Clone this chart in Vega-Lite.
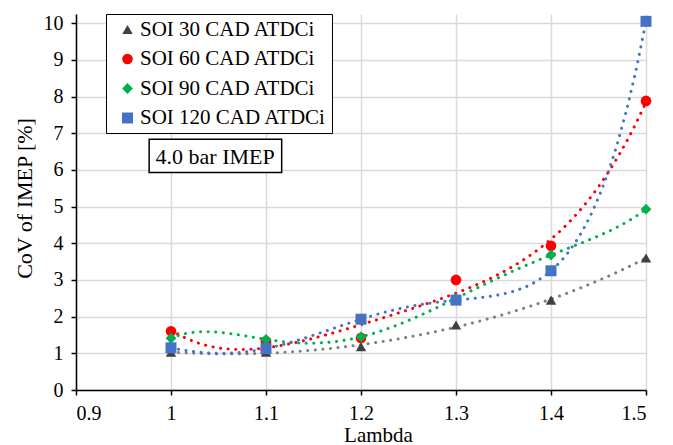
{
  "$schema": "https://vega.github.io/schema/vega-lite/v6.json",
  "width": 570,
  "height": 376,
  "autosize": "none",
  "padding": {"left": 76, "top": 14, "right": 27, "bottom": 55},
  "background": "white",
  "config": {
    "view": {"stroke": null},
    "font": "Liberation Serif",
    "axis": {
      "labelFont": "Liberation Serif",
      "titleFont": "Liberation Serif",
      "labelFontSize": 20,
      "titleFontSize": 21,
      "titleFontWeight": "normal",
      "labelColor": "#000000",
      "titleColor": "#000000",
      "domainColor": "#000000",
      "domainWidth": 1.5,
      "tickColor": "#000000",
      "tickWidth": 1.5,
      "tickSize": 5,
      "gridColor": "#d9d9d9",
      "gridWidth": 1.5
    },
    "axisY": {
      "values": [0, 1, 2, 3, 4, 5, 6, 7, 8, 9, 10],
      "labelPadding": 8,
      "titleX": -52,
      "titleY": 184,
      "titleAngle": -90,
      "titleBaseline": "middle",
      "titleAlign": "center",
      "titleFontSize": 22
    },
    "legend": {
      "labelFont": "Liberation Serif",
      "labelFontSize": 21,
      "labelColor": "#000000",
      "labelLimit": 400
    }
  },
  "datasets": {
    "cov": [
      {"series": "SOI 30 CAD ATDCi", "lambda": 1.0, "cov": 1.03},
      {"series": "SOI 30 CAD ATDCi", "lambda": 1.1, "cov": 1.03},
      {"series": "SOI 30 CAD ATDCi", "lambda": 1.2, "cov": 1.18},
      {"series": "SOI 30 CAD ATDCi", "lambda": 1.3, "cov": 1.77},
      {"series": "SOI 30 CAD ATDCi", "lambda": 1.4, "cov": 2.45},
      {"series": "SOI 30 CAD ATDCi", "lambda": 1.5, "cov": 3.6},
      {"series": "SOI 60 CAD ATDCi", "lambda": 1.0, "cov": 1.6},
      {"series": "SOI 60 CAD ATDCi", "lambda": 1.1, "cov": 1.33},
      {"series": "SOI 60 CAD ATDCi", "lambda": 1.2, "cov": 1.42},
      {"series": "SOI 60 CAD ATDCi", "lambda": 1.3, "cov": 3.0},
      {"series": "SOI 60 CAD ATDCi", "lambda": 1.4, "cov": 3.93},
      {"series": "SOI 60 CAD ATDCi", "lambda": 1.5, "cov": 7.88},
      {"series": "SOI 90 CAD ATDCi", "lambda": 1.0, "cov": 1.41},
      {"series": "SOI 90 CAD ATDCi", "lambda": 1.1, "cov": 1.38},
      {"series": "SOI 90 CAD ATDCi", "lambda": 1.2, "cov": 1.45},
      {"series": "SOI 90 CAD ATDCi", "lambda": 1.3, "cov": 2.5},
      {"series": "SOI 90 CAD ATDCi", "lambda": 1.4, "cov": 3.68},
      {"series": "SOI 90 CAD ATDCi", "lambda": 1.5, "cov": 4.93},
      {"series": "SOI 120 CAD ATDCi", "lambda": 1.0, "cov": 1.15},
      {"series": "SOI 120 CAD ATDCi", "lambda": 1.1, "cov": 1.13},
      {"series": "SOI 120 CAD ATDCi", "lambda": 1.2, "cov": 1.93},
      {"series": "SOI 120 CAD ATDCi", "lambda": 1.3, "cov": 2.45},
      {"series": "SOI 120 CAD ATDCi", "lambda": 1.4, "cov": 3.25},
      {"series": "SOI 120 CAD ATDCi", "lambda": 1.5, "cov": 10.05}
    ]
  },
  "layer": [
    {
      "data": {"name": "cov"},
      "transform": [
        {"filter": "datum.series === 'SOI 30 CAD ATDCi'"},
        {"regression": "cov", "on": "lambda", "method": "poly", "order": 4}
      ],
      "mark": {"type": "line", "color": "#7f7f7f", "strokeWidth": 3, "strokeCap": "round", "strokeDash": [0.1, 7.5]},
      "encoding": {
        "x": {"field": "lambda", "type": "quantitative", "title": "Lambda", "scale": {"domain": [0.9, 1.5], "nice": false, "zero": false},
              "axis": {"values": [0.9, 1, 1.1, 1.2, 1.3, 1.4, 1.5], "format": "~g", "labelPadding": 8, "titleX": 302, "titleY": 51, "titleBaseline": "alphabetic"}},
        "y": {"field": "cov", "type": "quantitative", "title": "CoV of  IMEP [%]", "scale": {"domain": [0, 10.25], "nice": false}}
      }
    },
    {
      "data": {"name": "cov"},
      "transform": [
        {"filter": "datum.series === 'SOI 60 CAD ATDCi'"},
        {"regression": "cov", "on": "lambda", "method": "poly", "order": 4}
      ],
      "mark": {"type": "line", "color": "#ff0000", "strokeWidth": 3, "strokeCap": "round", "strokeDash": [0.1, 7.5]},
      "encoding": {
        "x": {"field": "lambda", "type": "quantitative", "title": "Lambda", "scale": {"domain": [0.9, 1.5], "nice": false, "zero": false},
              "axis": {"values": [0.9, 1, 1.1, 1.2, 1.3, 1.4, 1.5], "format": "~g", "labelPadding": 8, "titleX": 302, "titleY": 51, "titleBaseline": "alphabetic"}},
        "y": {"field": "cov", "type": "quantitative", "title": "CoV of  IMEP [%]", "scale": {"domain": [0, 10.25], "nice": false}}
      }
    },
    {
      "data": {"name": "cov"},
      "transform": [
        {"filter": "datum.series === 'SOI 90 CAD ATDCi'"},
        {"regression": "cov", "on": "lambda", "method": "poly", "order": 5}
      ],
      "mark": {"type": "line", "color": "#00b050", "strokeWidth": 3, "strokeCap": "round", "strokeDash": [0.1, 7.5]},
      "encoding": {
        "x": {"field": "lambda", "type": "quantitative", "title": "Lambda", "scale": {"domain": [0.9, 1.5], "nice": false, "zero": false},
              "axis": {"values": [0.9, 1, 1.1, 1.2, 1.3, 1.4, 1.5], "format": "~g", "labelPadding": 8, "titleX": 302, "titleY": 51, "titleBaseline": "alphabetic"}},
        "y": {"field": "cov", "type": "quantitative", "title": "CoV of  IMEP [%]", "scale": {"domain": [0, 10.25], "nice": false}}
      }
    },
    {
      "data": {"name": "cov"},
      "transform": [
        {"filter": "datum.series === 'SOI 120 CAD ATDCi'"},
        {"regression": "cov", "on": "lambda", "method": "poly", "order": 5}
      ],
      "mark": {"type": "line", "color": "#4472c4", "strokeWidth": 3, "strokeCap": "round", "strokeDash": [0.1, 7.5]},
      "encoding": {
        "x": {"field": "lambda", "type": "quantitative", "title": "Lambda", "scale": {"domain": [0.9, 1.5], "nice": false, "zero": false},
              "axis": {"values": [0.9, 1, 1.1, 1.2, 1.3, 1.4, 1.5], "format": "~g", "labelPadding": 8, "titleX": 302, "titleY": 51, "titleBaseline": "alphabetic"}},
        "y": {"field": "cov", "type": "quantitative", "title": "CoV of  IMEP [%]", "scale": {"domain": [0, 10.25], "nice": false}}
      }
    },
    {
      "data": {"name": "cov"},
      "mark": {"type": "point", "filled": true, "opacity": 1},
      "encoding": {
        "x": {"field": "lambda", "type": "quantitative", "title": "Lambda", "scale": {"domain": [0.9, 1.5], "nice": false, "zero": false},
              "axis": {"values": [0.9, 1, 1.1, 1.2, 1.3, 1.4, 1.5], "format": "~g", "labelPadding": 8, "titleX": 302, "titleY": 51, "titleBaseline": "alphabetic"}},
        "y": {"field": "cov", "type": "quantitative", "title": "CoV of  IMEP [%]", "scale": {"domain": [0, 10.25], "nice": false}},
        "color": {
          "field": "series",
          "type": "nominal",
          "scale": {
            "domain": ["SOI 30 CAD ATDCi", "SOI 60 CAD ATDCi", "SOI 90 CAD ATDCi", "SOI 120 CAD ATDCi"],
            "range": ["#404040", "#ff0000", "#00b050", "#4472c4"]
          },
          "legend": {
            "title": null,
            "orient": "none",
            "legendX": 30,
            "legendY": 0,
            "strokeColor": "#000000",
            "fillColor": "#ffffff",
            "padding": 5,
            "symbolOffset": 6,
            "symbolSize": 60,
            "rowPadding": 7.5,
            "labelOffset": 2,
            "labelExpr": "datum.label + '\u00a0\u00a0\u00a0\u00a0\u00a0\u00a0\u00a0'",
            "encode": {"legend": {"update": {"strokeWidth": {"value": 1.5}}}}
          }
        },
        "shape": {
          "field": "series",
          "type": "nominal",
          "scale": {
            "domain": ["SOI 30 CAD ATDCi", "SOI 60 CAD ATDCi", "SOI 90 CAD ATDCi", "SOI 120 CAD ATDCi"],
            "range": ["triangle-up", "circle", "diamond", "square"]
          },
          "legend": {
            "title": null,
            "orient": "none",
            "legendX": 30,
            "legendY": 0,
            "strokeColor": "#000000",
            "fillColor": "#ffffff",
            "padding": 5,
            "symbolOffset": 6,
            "symbolSize": 60,
            "rowPadding": 7.5,
            "labelOffset": 2,
            "labelExpr": "datum.label + '\u00a0\u00a0\u00a0\u00a0\u00a0\u00a0\u00a0'",
            "encode": {"legend": {"update": {"strokeWidth": {"value": 1.5}}}}
          }
        },
        "size": {
          "field": "series",
          "type": "nominal",
          "scale": {
            "domain": ["SOI 30 CAD ATDCi", "SOI 60 CAD ATDCi", "SOI 90 CAD ATDCi", "SOI 120 CAD ATDCi"],
            "range": [110, 121, 190, 110]
          },
          "legend": null
        }
      }
    },
    {
      "data": {"values": [{"note": "4.0 bar IMEP"}]},
      "mark": {"type": "rect", "fill": "#ffffff", "stroke": "#000000", "strokeWidth": 1.5},
      "encoding": {
        "x": {"datum": 0.977, "type": "quantitative"},
        "x2": {"datum": 1.1165},
        "y": {"datum": 5.926, "type": "quantitative"},
        "y2": {"datum": 6.837}
      }
    },
    {
      "data": {"values": [{"note": "4.0 bar IMEP"}]},
      "mark": {"type": "text", "font": "Liberation Serif", "fontSize": 22, "color": "#000000", "align": "center", "baseline": "middle"},
      "encoding": {
        "x": {"datum": 1.0465, "type": "quantitative"},
        "y": {"datum": 6.36, "type": "quantitative"},
        "text": {"field": "note"}
      }
    }
  ]
}
